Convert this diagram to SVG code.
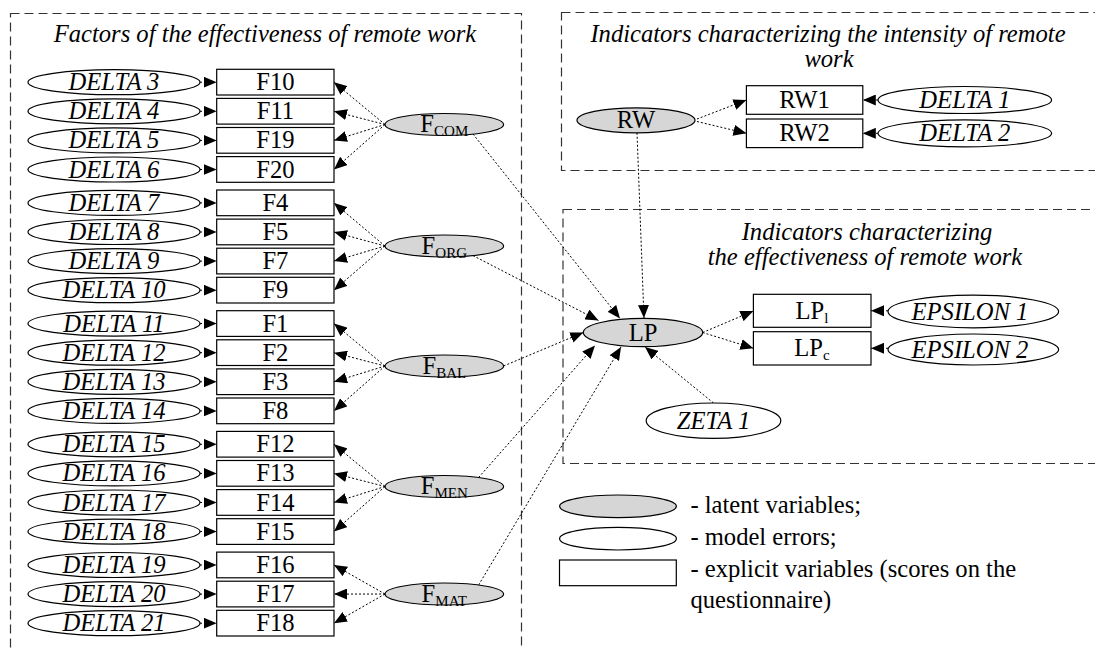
<svg xmlns="http://www.w3.org/2000/svg" width="1095" height="648" viewBox="0 0 1095 648" font-family="Liberation Serif, serif">
  <style>
    text { font-family: 'Liberation Serif', serif; font-size: 24.6px; fill: #000; }
    .it { font-style: italic; }
    .mid { text-anchor: middle; }
    .sub { font-size: 15px; }
    .err { fill: #fff; stroke: #000; stroke-width: 1.2; }
    .lat { fill: #d6d6d6; stroke: #000; stroke-width: 1.2; }
    .obs { fill: #fff; stroke: #000; stroke-width: 1.2; }
    .frame { fill: none; stroke: #333; stroke-width: 1.2; stroke-dasharray: 9 5; }
    .link { fill: none; stroke: #000; stroke-width: 1; stroke-dasharray: 2 2; marker-end: url(#arrow); }
  </style>
  <defs>
    <marker id="arrow" markerUnits="userSpaceOnUse" markerWidth="13" markerHeight="11" refX="13" refY="5.5" orient="auto">
      <path d="M0,0 L13,5.5 L0,11 z" fill="#000"/>
    </marker>
  </defs>

  <rect width="1095" height="648" fill="#fff"/>

  <!-- section frames -->
  <g id="frames">
    <rect class="frame" x="10.5" y="13.5" width="511" height="660"/>
    <rect class="frame" x="561.5" y="12.5" width="560" height="158"/>
    <rect class="frame" x="563" y="209.5" width="560" height="254"/>
    <text class="it mid" x="265" y="42">Factors of the effectiveness of remote work</text>
    <text class="it mid" x="828" y="42">Indicators characterizing the intensity of remote</text>
    <text class="it mid" x="829" y="67">work</text>
    <text class="it mid" x="867" y="240">Indicators characterizing</text>
    <text class="it mid" x="865" y="265">the effectiveness of remote work</text>
  </g>

  <!-- connectors -->
  <g id="connectors">
    <!-- error terms to indicators -->
    <line class="link" x1="200" y1="82.2" x2="216.7" y2="82.2"/>
    <line class="link" x1="200" y1="111.3" x2="216.7" y2="111.3"/>
    <line class="link" x1="200" y1="140.4" x2="216.7" y2="140.4"/>
    <line class="link" x1="200" y1="169.5" x2="216.7" y2="169.5"/>
    <line class="link" x1="200" y1="202.9" x2="216.7" y2="202.9"/>
    <line class="link" x1="200" y1="232" x2="216.7" y2="232"/>
    <line class="link" x1="200" y1="261.1" x2="216.7" y2="261.1"/>
    <line class="link" x1="200" y1="290.2" x2="216.7" y2="290.2"/>
    <line class="link" x1="200" y1="323.6" x2="216.7" y2="323.6"/>
    <line class="link" x1="200" y1="352.7" x2="216.7" y2="352.7"/>
    <line class="link" x1="200" y1="381.8" x2="216.7" y2="381.8"/>
    <line class="link" x1="200" y1="410.9" x2="216.7" y2="410.9"/>
    <line class="link" x1="200" y1="444.3" x2="216.7" y2="444.3"/>
    <line class="link" x1="200" y1="473.4" x2="216.7" y2="473.4"/>
    <line class="link" x1="200" y1="502.5" x2="216.7" y2="502.5"/>
    <line class="link" x1="200" y1="531.6" x2="216.7" y2="531.6"/>
    <line class="link" x1="200" y1="565" x2="216.7" y2="565"/>
    <line class="link" x1="200" y1="594.1" x2="216.7" y2="594.1"/>
    <line class="link" x1="200" y1="623.2" x2="216.7" y2="623.2"/>

    <!-- factor loadings -->
    <line class="link" x1="385" y1="124.5" x2="334" y2="82.2"/>
    <line class="link" x1="385" y1="124.5" x2="334" y2="111.3"/>
    <line class="link" x1="385" y1="124.5" x2="334" y2="140.4"/>
    <line class="link" x1="385" y1="124.5" x2="334" y2="169.5"/>
    <line class="link" x1="385" y1="246" x2="334" y2="202.9"/>
    <line class="link" x1="385" y1="246" x2="334" y2="232"/>
    <line class="link" x1="385" y1="246" x2="334" y2="261.1"/>
    <line class="link" x1="385" y1="246" x2="334" y2="290.2"/>
    <line class="link" x1="385" y1="366" x2="334" y2="323.6"/>
    <line class="link" x1="385" y1="366" x2="334" y2="352.7"/>
    <line class="link" x1="385" y1="366" x2="334" y2="381.8"/>
    <line class="link" x1="385" y1="366" x2="334" y2="410.9"/>
    <line class="link" x1="385" y1="486.5" x2="334" y2="444.3"/>
    <line class="link" x1="385" y1="486.5" x2="334" y2="473.4"/>
    <line class="link" x1="385" y1="486.5" x2="334" y2="502.5"/>
    <line class="link" x1="385" y1="486.5" x2="334" y2="531.6"/>
    <line class="link" x1="385" y1="594" x2="334" y2="565"/>
    <line class="link" x1="385" y1="594" x2="334" y2="594.1"/>
    <line class="link" x1="385" y1="594" x2="334" y2="623.2"/>

    <!-- factors to LP -->
    <line class="link" x1="473" y1="134" x2="620" y2="318.5"/>
    <line class="link" x1="473" y1="255.6" x2="598.5" y2="320.5"/>
    <line class="link" x1="503.6" y1="366" x2="583.3" y2="332.5"/>
    <line class="link" x1="478.6" y1="477.5" x2="595" y2="345.5"/>
    <line class="link" x1="478.6" y1="585" x2="621" y2="347"/>
    <line class="link" x1="637" y1="132.8" x2="644" y2="318"/>
    <line class="link" x1="713.5" y1="403" x2="645" y2="347"/>

    <!-- RW indicators -->
    <line class="link" x1="697" y1="119" x2="746.4" y2="100"/>
    <line class="link" x1="697" y1="121.5" x2="746.4" y2="133.3"/>
    <line class="link" x1="878" y1="100" x2="862.8" y2="100"/>
    <line class="link" x1="878" y1="133.3" x2="862.8" y2="133.3"/>

    <!-- LP indicators -->
    <line class="link" x1="702.7" y1="332.5" x2="753.4" y2="311"/>
    <line class="link" x1="702.7" y1="332.5" x2="753.4" y2="348.3"/>
    <line class="link" x1="888" y1="310.8" x2="871" y2="310.8"/>
    <line class="link" x1="888" y1="348.3" x2="871" y2="348.3"/>
  </g>

  <!-- error terms DELTA 3..21 -->
  <g id="delta3"><ellipse class="err" cx="114" cy="82.2" rx="86" ry="12.5"/><text class="it mid" x="114" y="90.2">DELTA 3</text></g>
  <g id="delta4"><ellipse class="err" cx="114" cy="111.3" rx="86" ry="12.5"/><text class="it mid" x="114" y="119.3">DELTA 4</text></g>
  <g id="delta5"><ellipse class="err" cx="114" cy="140.4" rx="86" ry="12.5"/><text class="it mid" x="114" y="148.4">DELTA 5</text></g>
  <g id="delta6"><ellipse class="err" cx="114" cy="169.5" rx="86" ry="12.5"/><text class="it mid" x="114" y="177.5">DELTA 6</text></g>
  <g id="delta7"><ellipse class="err" cx="114" cy="202.9" rx="86" ry="12.5"/><text class="it mid" x="114" y="210.9">DELTA 7</text></g>
  <g id="delta8"><ellipse class="err" cx="114" cy="232" rx="86" ry="12.5"/><text class="it mid" x="114" y="240">DELTA 8</text></g>
  <g id="delta9"><ellipse class="err" cx="114" cy="261.1" rx="86" ry="12.5"/><text class="it mid" x="114" y="269.1">DELTA 9</text></g>
  <g id="delta10"><ellipse class="err" cx="114" cy="290.2" rx="86" ry="12.5"/><text class="it mid" x="114" y="298.2">DELTA 10</text></g>
  <g id="delta11"><ellipse class="err" cx="114" cy="323.6" rx="86" ry="12.5"/><text class="it mid" x="114" y="331.6">DELTA 11</text></g>
  <g id="delta12"><ellipse class="err" cx="114" cy="352.7" rx="86" ry="12.5"/><text class="it mid" x="114" y="360.7">DELTA 12</text></g>
  <g id="delta13"><ellipse class="err" cx="114" cy="381.8" rx="86" ry="12.5"/><text class="it mid" x="114" y="389.8">DELTA 13</text></g>
  <g id="delta14"><ellipse class="err" cx="114" cy="410.9" rx="86" ry="12.5"/><text class="it mid" x="114" y="418.9">DELTA 14</text></g>
  <g id="delta15"><ellipse class="err" cx="114" cy="444.3" rx="86" ry="12.5"/><text class="it mid" x="114" y="452.3">DELTA 15</text></g>
  <g id="delta16"><ellipse class="err" cx="114" cy="473.4" rx="86" ry="12.5"/><text class="it mid" x="114" y="481.4">DELTA 16</text></g>
  <g id="delta17"><ellipse class="err" cx="114" cy="502.5" rx="86" ry="12.5"/><text class="it mid" x="114" y="510.5">DELTA 17</text></g>
  <g id="delta18"><ellipse class="err" cx="114" cy="531.6" rx="86" ry="12.5"/><text class="it mid" x="114" y="539.6">DELTA 18</text></g>
  <g id="delta19"><ellipse class="err" cx="114" cy="565" rx="86" ry="12.5"/><text class="it mid" x="114" y="573">DELTA 19</text></g>
  <g id="delta20"><ellipse class="err" cx="114" cy="594.1" rx="86" ry="12.5"/><text class="it mid" x="114" y="602.1">DELTA 20</text></g>
  <g id="delta21"><ellipse class="err" cx="114" cy="623.2" rx="86" ry="12.5"/><text class="it mid" x="114" y="631.2">DELTA 21</text></g>

  <!-- questionnaire items -->
  <g id="f10"><rect class="obs" x="216.7" y="69.3" width="117.3" height="25.7"/><text class="mid" x="275.4" y="90.2">F10</text></g>
  <g id="f11"><rect class="obs" x="216.7" y="98.4" width="117.3" height="25.7"/><text class="mid" x="275.4" y="119.3">F11</text></g>
  <g id="f19"><rect class="obs" x="216.7" y="127.5" width="117.3" height="25.7"/><text class="mid" x="275.4" y="148.4">F19</text></g>
  <g id="f20"><rect class="obs" x="216.7" y="156.6" width="117.3" height="25.7"/><text class="mid" x="275.4" y="177.5">F20</text></g>
  <g id="f4"><rect class="obs" x="216.7" y="190" width="117.3" height="25.7"/><text class="mid" x="275.4" y="210.9">F4</text></g>
  <g id="f5"><rect class="obs" x="216.7" y="219.1" width="117.3" height="25.7"/><text class="mid" x="275.4" y="240">F5</text></g>
  <g id="f7"><rect class="obs" x="216.7" y="248.2" width="117.3" height="25.7"/><text class="mid" x="275.4" y="269.1">F7</text></g>
  <g id="f9"><rect class="obs" x="216.7" y="277.3" width="117.3" height="25.7"/><text class="mid" x="275.4" y="298.2">F9</text></g>
  <g id="f1"><rect class="obs" x="216.7" y="310.7" width="117.3" height="25.7"/><text class="mid" x="275.4" y="331.6">F1</text></g>
  <g id="f2"><rect class="obs" x="216.7" y="339.8" width="117.3" height="25.7"/><text class="mid" x="275.4" y="360.7">F2</text></g>
  <g id="f3"><rect class="obs" x="216.7" y="368.9" width="117.3" height="25.7"/><text class="mid" x="275.4" y="389.8">F3</text></g>
  <g id="f8"><rect class="obs" x="216.7" y="398" width="117.3" height="25.7"/><text class="mid" x="275.4" y="418.9">F8</text></g>
  <g id="f12"><rect class="obs" x="216.7" y="431.4" width="117.3" height="25.7"/><text class="mid" x="275.4" y="452.3">F12</text></g>
  <g id="f13"><rect class="obs" x="216.7" y="460.5" width="117.3" height="25.7"/><text class="mid" x="275.4" y="481.4">F13</text></g>
  <g id="f14"><rect class="obs" x="216.7" y="489.6" width="117.3" height="25.7"/><text class="mid" x="275.4" y="510.5">F14</text></g>
  <g id="f15"><rect class="obs" x="216.7" y="518.7" width="117.3" height="25.7"/><text class="mid" x="275.4" y="539.6">F15</text></g>
  <g id="f16"><rect class="obs" x="216.7" y="552.1" width="117.3" height="25.7"/><text class="mid" x="275.4" y="573">F16</text></g>
  <g id="f17"><rect class="obs" x="216.7" y="581.2" width="117.3" height="25.7"/><text class="mid" x="275.4" y="602.1">F17</text></g>
  <g id="f18"><rect class="obs" x="216.7" y="610.3" width="117.3" height="25.7"/><text class="mid" x="275.4" y="631.2">F18</text></g>

  <!-- latent factors -->
  <g id="fcom"><ellipse class="lat" cx="444.3" cy="124.5" rx="59.3" ry="11"/><text class="mid" x="444.3" y="132">F<tspan class="sub" dy="4">COM</tspan></text></g>
  <g id="forg"><ellipse class="lat" cx="444.3" cy="246" rx="59.3" ry="11"/><text class="mid" x="444.3" y="253.5">F<tspan class="sub" dy="4">ORG</tspan></text></g>
  <g id="fbal"><ellipse class="lat" cx="444.3" cy="366" rx="59.3" ry="11"/><text class="mid" x="444.3" y="373.5">F<tspan class="sub" dy="4">BAL</tspan></text></g>
  <g id="fmen"><ellipse class="lat" cx="444.3" cy="486.5" rx="59.3" ry="11"/><text class="mid" x="444.3" y="494">F<tspan class="sub" dy="4">MEN</tspan></text></g>
  <g id="fmat"><ellipse class="lat" cx="444.3" cy="594" rx="59.3" ry="11"/><text class="mid" x="444.3" y="601.5">F<tspan class="sub" dy="4">MAT</tspan></text></g>

  <!-- remote work intensity -->
  <g id="rw"><ellipse class="lat" cx="636" cy="120.3" rx="59" ry="12.5"/><text class="mid" x="636" y="128.3">RW</text></g>
  <g id="rw1"><rect class="obs" x="746.4" y="85.7" width="116.4" height="28.6"/><text class="mid" x="804.6" y="108">RW1</text></g>
  <g id="rw2"><rect class="obs" x="746.4" y="119" width="116.4" height="28.6"/><text class="mid" x="804.6" y="141.3">RW2</text></g>
  <g id="delta1"><ellipse class="err" cx="964.8" cy="100" rx="86.8" ry="13.5"/><text class="it mid" x="964.8" y="108">DELTA 1</text></g>
  <g id="delta2"><ellipse class="err" cx="964.8" cy="133.3" rx="86.8" ry="13.5"/><text class="it mid" x="964.8" y="141.3">DELTA 2</text></g>

  <!-- remote work effectiveness -->
  <g id="lp"><ellipse class="lat" cx="643" cy="332.5" rx="59.7" ry="14.2"/><text class="mid" x="643" y="340.5">LP</text></g>
  <g id="lp1"><rect class="obs" x="753.4" y="294.3" width="117.6" height="33"/><text class="mid" x="812" y="318.8">LP<tspan class="sub" dy="4">l</tspan></text></g>
  <g id="lpc"><rect class="obs" x="753.4" y="331.7" width="117.6" height="33.3"/><text class="mid" x="812" y="356.3">LP<tspan class="sub" dy="4">c</tspan></text></g>
  <g id="epsilon1"><ellipse class="err" cx="973.3" cy="311.5" rx="85.3" ry="16.3"/><text class="it mid" x="970" y="319.5">EPSILON 1</text></g>
  <g id="epsilon2"><ellipse class="err" cx="973.3" cy="349.5" rx="85.3" ry="15.5"/><text class="it mid" x="970" y="357.5">EPSILON 2</text></g>
  <g id="zeta1"><ellipse class="err" cx="713.5" cy="420.7" rx="67.3" ry="17.7"/><text class="it mid" x="713.5" y="428.7">ZETA 1</text></g>

  <!-- legend -->
  <g id="legend">
    <ellipse class="lat" cx="618" cy="506.3" rx="58.4" ry="11.3"/>
    <ellipse class="err" cx="618" cy="538.7" rx="58.4" ry="11.3"/>
    <rect class="obs" x="559.5" y="560" width="116.8" height="25.7"/>
    <text x="690.4" y="513.3">- latent variables;</text>
    <text x="690.4" y="545">- model errors;</text>
    <text x="690.4" y="576.5">- explicit variables (scores on the</text>
    <text x="690.4" y="608">questionnaire)</text>
  </g>
</svg>
